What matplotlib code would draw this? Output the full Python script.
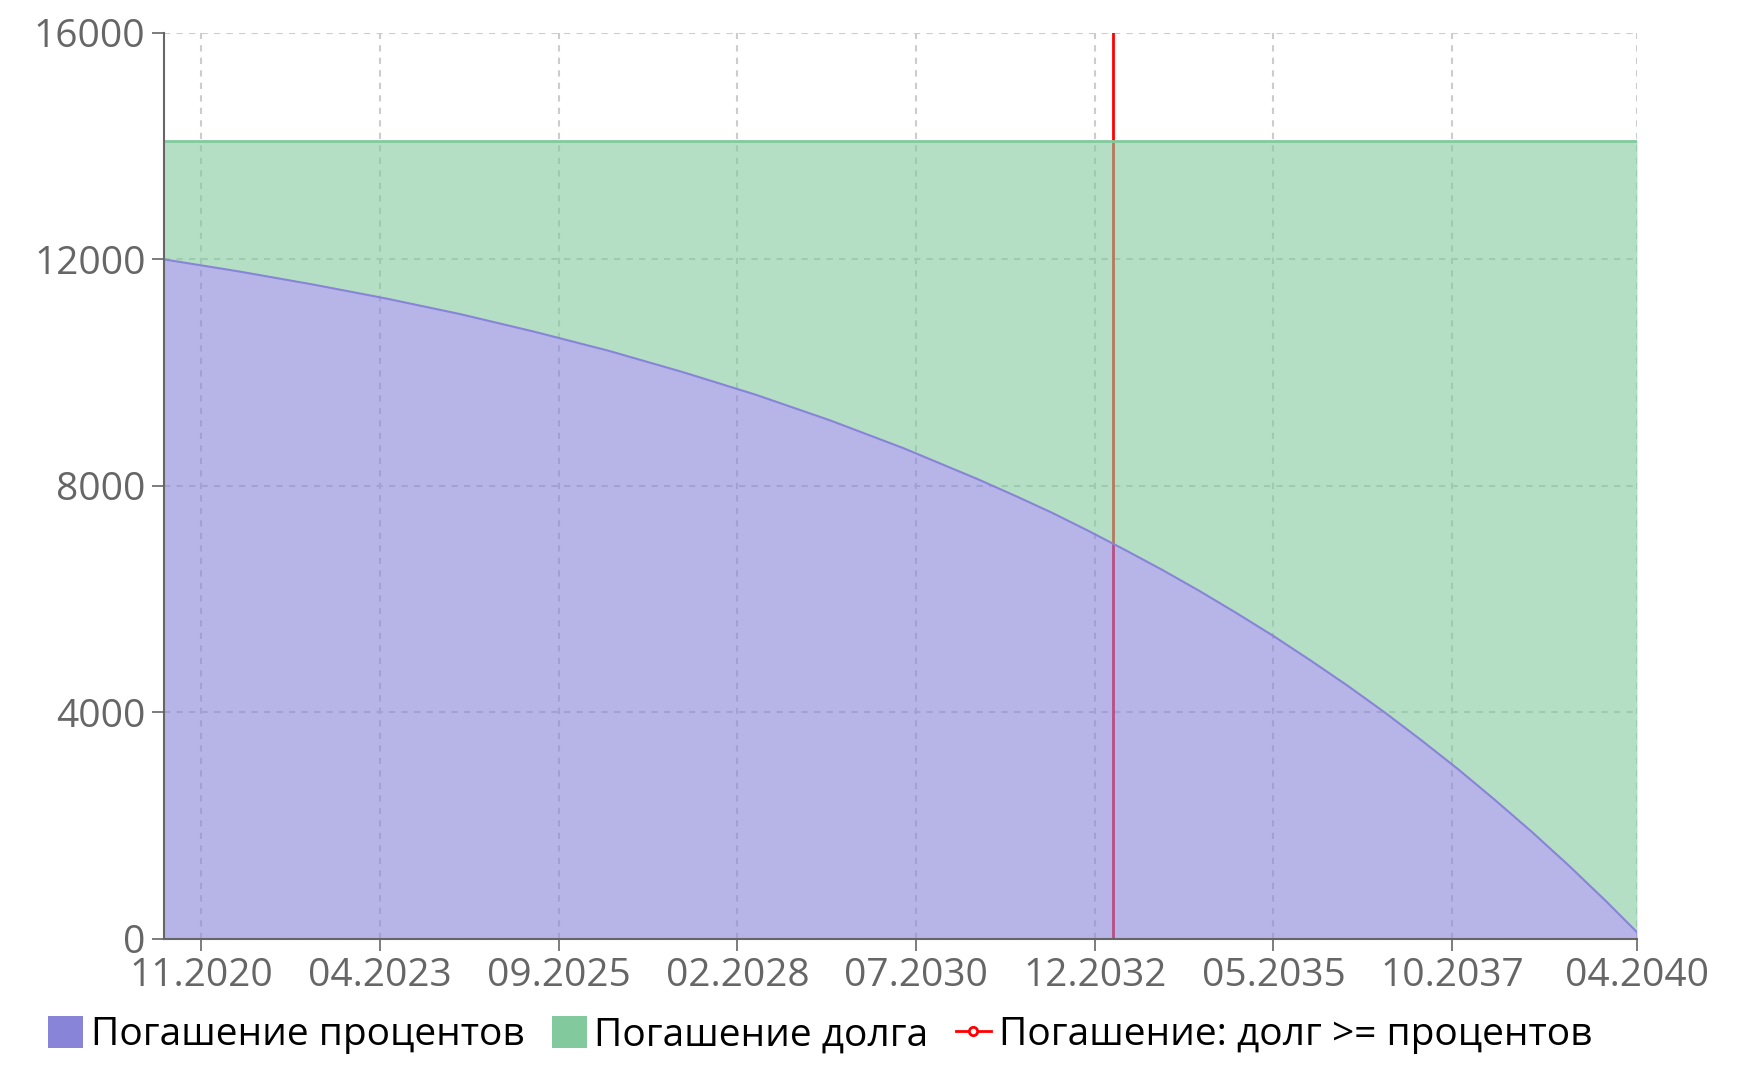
import matplotlib
matplotlib.use("Agg")
import matplotlib.pyplot as plt
from matplotlib.lines import Line2D
from matplotlib.patches import Patch

plt.rcParams['font.family'] = ['Open Sans', 'DejaVu Sans']

# Months counted from 05.2020 (index 0) to 04.2040 (index 239)
start_month = (2020, 5)
month_idx = [0, 12, 24, 36, 48, 60, 72, 84, 96, 108, 120,
             132, 138, 144, 150, 156, 162, 168, 174, 180, 186, 192,
             198, 204, 210, 216, 222, 228, 234, 239]
interest = [12000, 11790, 11560, 11310, 11035, 10725, 10390, 10015, 9610, 9160, 8665,
            8120, 7830, 7530, 7205, 6865, 6515, 6145, 5755, 5350, 4920, 4475,
            4005, 3510, 2995, 2450, 1885, 1290, 665, 120]
payment = [14090] * len(month_idx)
debt = [p - i for p, i in zip(payment, interest)]

tick_labels = ['11.2020', '04.2023', '09.2025', '02.2028', '07.2030',
               '12.2032', '05.2035', '10.2037', '04.2040']
crossover = '03.2033'
y_ticks = [0, 4000, 8000, 12000, 16000]

labels = ['Погашение процентов', 'Погашение долга', 'Погашение: долг >= процентов']
c_interest = '#8884d8'
c_debt = '#82ca9d'
c_red = '#ff0000'


def to_idx(s):
    m, y = s.split('.')
    return (int(y) - start_month[0]) * 12 + int(m) - start_month[1]


top = [i + d for i, d in zip(interest, debt)]

fig = plt.figure(figsize=(17.42, 10.88), dpi=100)
ax = fig.add_axes([0.0944, 0.137, 0.8453, 0.8327])

ax.set_xlim(0, 239)
ax.set_ylim(0, 16000)
ax.set_xticks([to_idx(t) for t in tick_labels])
ax.set_xticklabels(tick_labels)
ax.set_yticks(y_ticks)
ax.set_yticklabels([str(v) for v in y_ticks])

ax.grid(True, color='#cccccc', linestyle=(0, (3, 3)), linewidth=1.5, zorder=0)
ax.set_axisbelow(True)

ax.axvline(to_idx(crossover), color=c_red, lw=2, zorder=1)

ax.fill_between(month_idx, 0, interest, color=c_interest, alpha=0.6, lw=0, zorder=2)
ax.plot(month_idx, interest, color=c_interest, lw=1.5, zorder=3)
ax.fill_between(month_idx, interest, top, color=c_debt, alpha=0.6, lw=0, zorder=2)
ax.plot(month_idx, top, color=c_debt, lw=2, zorder=3)

for s in ['top', 'right']:
    ax.spines[s].set_visible(False)
for s in ['left', 'bottom']:
    ax.spines[s].set_color('#666666')
    ax.spines[s].set_linewidth(1.5)
    ax.spines[s].set_zorder(4)

ax.tick_params(axis='both', colors='#666666', labelsize=28, length=8.6, width=1.2)
ax.tick_params(axis='y', pad=5)
ax.tick_params(axis='x', pad=4.5)

handles = [
    Patch(facecolor=c_interest, edgecolor='none'),
    Patch(facecolor=c_debt, edgecolor='none'),
    Line2D([0], [0], color=c_red, lw=2, marker='o', markersize=6,
           markerfacecolor='white', markeredgecolor=c_red, markeredgewidth=2),
]
fig.legend(handles, labels, loc='center', bbox_to_anchor=(820 / 1742, 1 - 1035 / 1088),
           ncol=3, frameon=False, fontsize=28, handlelength=0.9, handleheight=0.9,
           handletextpad=0.2, columnspacing=0.7, borderaxespad=0)

fig.savefig('out.png', dpi=100)
